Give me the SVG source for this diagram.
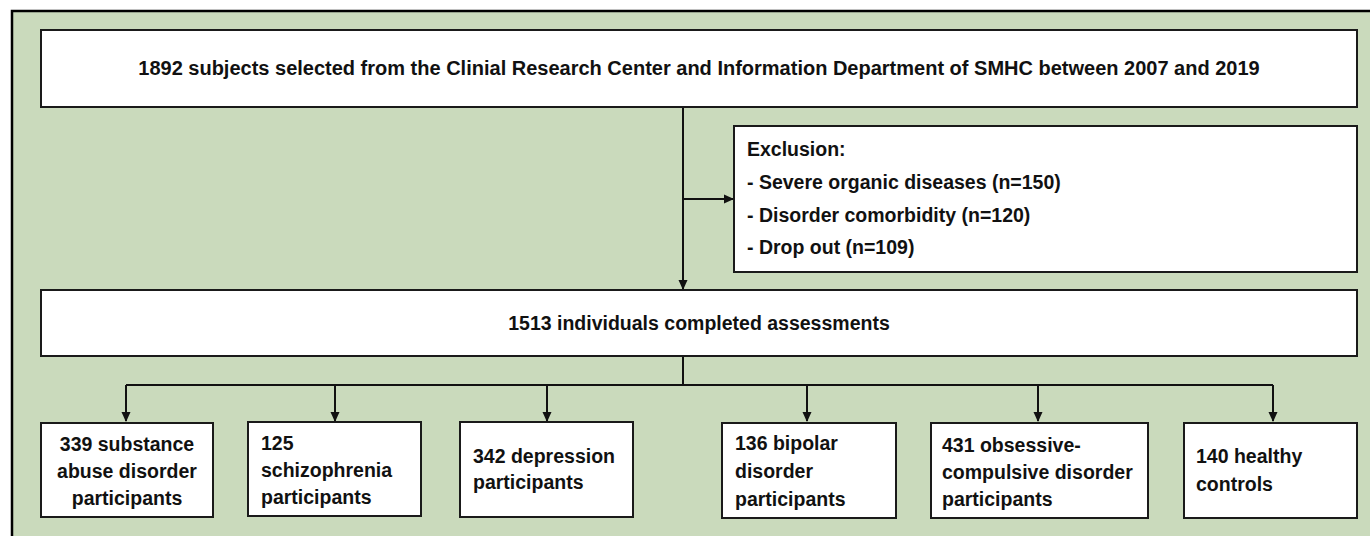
<svg xmlns="http://www.w3.org/2000/svg" width="1370" height="536" viewBox="0 0 1370 536">
<style>
.box{fill:#fff;stroke:#1a1a1a;stroke-width:2}
.t{font-family:"Liberation Sans",Arial,sans-serif;font-weight:bold;font-size:19.5px;fill:#111}
.c{text-anchor:middle}
.ln{fill:none;stroke:#111;stroke-width:2}
</style>
<defs>
<marker id="ah" markerWidth="10" markerHeight="10" refX="9" refY="5" orient="auto" markerUnits="userSpaceOnUse" viewBox="0 0 10 10">
<path d="M0,0.5 L10,5 L0,9.5 Z" fill="#111"/>
</marker>
</defs>
<rect x="0" y="0" width="1370" height="536" fill="#fff"/>
<rect x="12" y="11" width="1380" height="540" fill="#CADABC" stroke="#000" stroke-width="2.5"/>
<g id="connectors">
<path class="ln" d="M683,107 V289" marker-end="url(#ah)"/>
<path class="ln" d="M683,199 H733" marker-end="url(#ah)"/>
<path class="ln" d="M683,356 V385"/>
<path class="ln" d="M126,385 H1273"/>
<path class="ln" d="M126,385 V421" marker-end="url(#ah)"/>
<path class="ln" d="M335,385 V421" marker-end="url(#ah)"/>
<path class="ln" d="M547,385 V421" marker-end="url(#ah)"/>
<path class="ln" d="M807,385 V421" marker-end="url(#ah)"/>
<path class="ln" d="M1038,385 V421" marker-end="url(#ah)"/>
<path class="ln" d="M1273,385 V421" marker-end="url(#ah)"/>
</g>
<g id="n_top">
<rect class="box" x="41" y="30" width="1316" height="77"/>
<text class="t c" x="699" y="75" style="font-size:20px">1892 subjects selected from the Clinial Research Center and Information Department of SMHC between 2007 and 2019</text>
</g>
<g id="n_excl">
<rect class="box" x="734" y="126" width="623" height="146"/>
<text class="t" x="747" y="156">Exclusion:</text>
<text class="t" x="747" y="189">- Severe organic diseases (n=150)</text>
<text class="t" x="747" y="222">- Disorder comorbidity (n=120)</text>
<text class="t" x="747" y="254">- Drop out (n=109)</text>
</g>
<g id="n_mid">
<rect class="box" x="41" y="290" width="1316" height="66"/>
<text class="t c" x="699" y="330">1513 individuals completed assessments</text>
</g>
<g id="n_sud">
<rect class="box" x="41" y="423" width="172" height="94"/>
<text class="t c" x="127" y="451">339 substance</text>
<text class="t c" x="127" y="478">abuse disorder</text>
<text class="t c" x="127" y="505">participants</text>
</g>
<g id="n_scz">
<rect class="box" x="248" y="422" width="173" height="94"/>
<text class="t" x="261" y="450">125</text>
<text class="t" x="261" y="477">schizophrenia</text>
<text class="t" x="261" y="504">participants</text>
</g>
<g id="n_dep">
<rect class="box" x="460" y="422" width="173" height="95"/>
<text class="t" x="473" y="463">342 depression</text>
<text class="t" x="473" y="489">participants</text>
</g>
<g id="n_bip">
<rect class="box" x="722" y="423" width="174" height="95"/>
<text class="t" x="735" y="450">136 bipolar</text>
<text class="t" x="735" y="478">disorder</text>
<text class="t" x="735" y="506">participants</text>
</g>
<g id="n_ocd">
<rect class="box" x="931" y="423" width="217" height="95"/>
<text class="t" x="942" y="452">431 obsessive-</text>
<text class="t" x="942" y="479">compulsive disorder</text>
<text class="t" x="942" y="506">participants</text>
</g>
<g id="n_hc">
<rect class="box" x="1184" y="423" width="173" height="95"/>
<text class="t" x="1196" y="463">140 healthy</text>
<text class="t" x="1196" y="491">controls</text>
</g>
</svg>
